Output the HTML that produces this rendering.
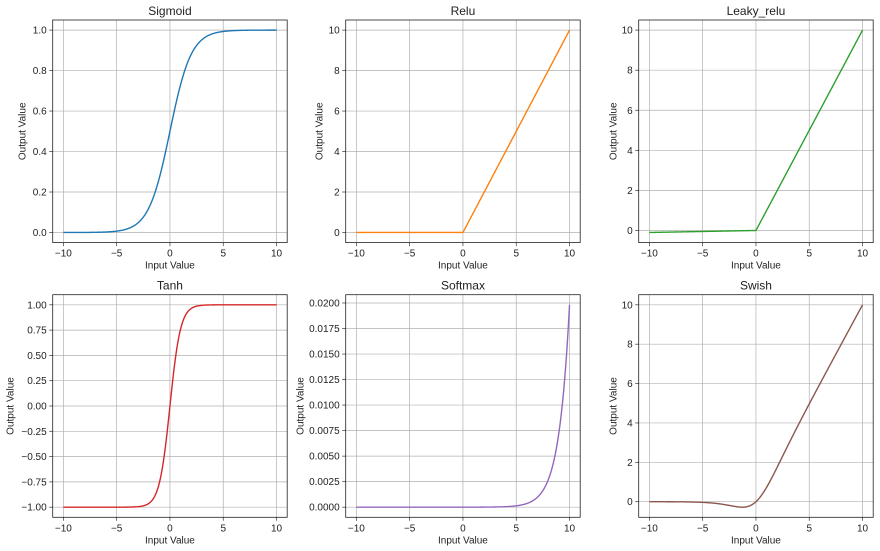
<!DOCTYPE html>
<html><head><meta charset="utf-8"><style>
html,body{margin:0;padding:0;background:#fff;width:880px;height:551px;overflow:hidden}
svg text{font-family:"Liberation Sans","DejaVu Sans",sans-serif;fill:#222}
</style></head><body>
<svg id="s" width="880" height="551" xmlns="http://www.w3.org/2000/svg"></svg>
<script>
const S=document.getElementById('s');let h='';
const cols=[52.7,345.7,638.7],rows=[20,294.7],W=234.5,H=222.6;
function sig(x){return 1/(1+Math.exp(-x))}
const N=1000,xs=[];for(let i=0;i<N;i++)xs.push(-10+20*i/(N-1));
let sum=0;xs.forEach(x=>sum+=Math.exp(x));
const P=[
{t:'Sigmoid',c:'#1f77b4',f:sig,ticks:[0,.2,.4,.6,.8,1],fmt:v=>v.toFixed(1),ax:27},
{t:'Relu',c:'#ff7f0e',f:x=>Math.max(0,x),ticks:[0,2,4,6,8,10],fmt:v=>v.toFixed(0),ax:23},
{t:'Leaky_relu',c:'#2ca02c',f:x=>x>0?x:0.01*x,ticks:[0,2,4,6,8,10],fmt:v=>v.toFixed(0),ax:22},
{t:'Tanh',c:'#d62728',f:Math.tanh,ticks:[-1,-.75,-.5,-.25,0,.25,.5,.75,1],fmt:v=>v.toFixed(2),ax:39},
{t:'Softmax',c:'#9467bd',f:x=>Math.exp(x)/sum,ticks:[0,.0025,.005,.0075,.01,.0125,.015,.0175,.02],fmt:v=>v.toFixed(4),ax:42},
{t:'Swish',c:'#8c564b',f:x=>x*sig(x),ticks:[0,2,4,6,8,10],fmt:v=>v.toFixed(0),ax:22}];
P.forEach((p,k)=>{
 const L=cols[k%3],T=rows[Math.floor(k/3)];
 const ys=xs.map(p.f);let mn=Math.min(...ys),mx=Math.max(...ys),m=(mx-mn)*0.05;mn-=m;mx+=m;
 const X=x=>L+(x+11)/22*W,Y=y=>T+H-(y-mn)/(mx-mn)*H;
 [-10,-5,0,5,10].forEach(v=>{const x=X(v);h+=`<line x1="${x}" y1="${T}" x2="${x}" y2="${T+H}" stroke="#b0b0b0" stroke-width="0.7"/><line x1="${x}" y1="${T+H}" x2="${x}" y2="${T+H+3.5}" stroke="#333" stroke-width="0.7"/><text x="${x}" y="${T+H+14}" font-size="10" text-anchor="middle">${v<0?'\u2212'+(-v):v}</text>`});
 p.ticks.forEach(v=>{const y=Y(v);let s=p.fmt(v);if(v<0)s='\u2212'+s.slice(1);h+=`<line x1="${L}" y1="${y}" x2="${L+W}" y2="${y}" stroke="#b0b0b0" stroke-width="0.7"/><line x1="${L-3.5}" y1="${y}" x2="${L}" y2="${y}" stroke="#333" stroke-width="0.7"/><text x="${L-6}" y="${y+3.5}" font-size="10" text-anchor="end">${s}</text>`});
 let d='';xs.forEach((x,i)=>{d+=(i?'L':'M')+X(x).toFixed(2)+' '+Y(ys[i]).toFixed(2)});
 h+=`<path d="${d}" fill="none" stroke="${p.c}" stroke-width="1.4"/>`;
 h+=`<rect x="${L}" y="${T}" width="${W}" height="${H}" fill="none" stroke="#222" stroke-width="0.8"/>`;
 h+=`<text x="${L+W/2}" y="${T-5}" font-size="12" text-anchor="middle">${p.t}</text>`;
 h+=`<text x="${L+W/2}" y="${T+H+26}" font-size="10" text-anchor="middle">Input Value</text>`;
 h+=`<text transform="translate(${L-p.ax},${T+H/2}) rotate(-90)" font-size="10" text-anchor="middle">Output Value</text>`;
});
S.innerHTML=h;
</script>
</body></html>
